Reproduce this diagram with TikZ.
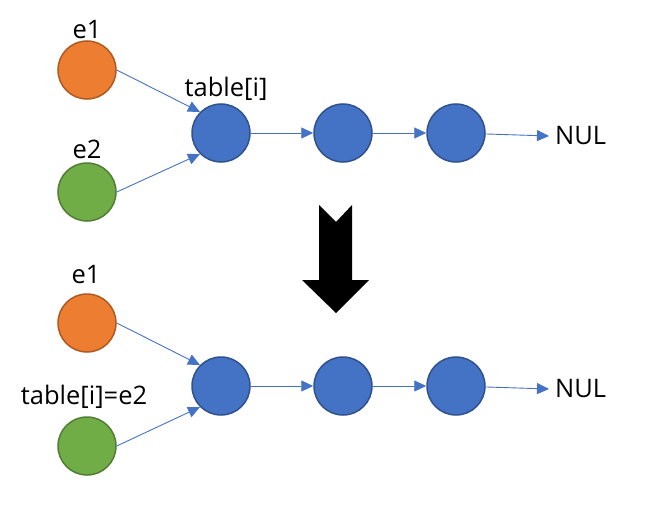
\documentclass[tikz,border=0pt]{standalone}
\usepackage{fontspec}
\setmainfont{Open Sans}
\usetikzlibrary{arrows.meta}
\definecolor{orfill}{HTML}{ED7D31}
\definecolor{ordraw}{HTML}{AE5A21}
\definecolor{grfill}{HTML}{70AD47}
\definecolor{grdraw}{HTML}{507E32}
\definecolor{blfill}{HTML}{4472C4}
\definecolor{bldraw}{HTML}{2F528F}
\tikzset{
  ball/.style={circle, minimum size=58pt, inner sep=0pt, line width=1.5pt},
  orball/.style={ball, fill=orfill, draw=ordraw},
  grball/.style={ball, fill=grfill, draw=grdraw},
  blball/.style={ball, fill=blfill, draw=bldraw},
  lbl/.style={font=\fontsize{25.5}{28}\selectfont, inner sep=0pt},
  link/.style={draw=blfill, line width=0.9pt, -{Triangle[length=12pt,width=11pt]}}
}
\begin{document}
\begin{tikzpicture}[x=1pt,y=-1pt]
\useasboundingbox (0,0) rectangle (669,511);
% top
\node[orball] (a1) at (87,70) {};
\node[grball] (a2) at (87,192) {};
\node[blball] (a3) at (221,133) {};
\node[blball] (a4) at (343,133) {};
\node[blball] (a5) at (456,133) {};
\node[lbl] (la1) at (87,30) {e1};
\node[lbl] (la2) at (87,149) {e2};
\node[lbl] (la3) at (226,89) {table[i]};
\node[lbl, anchor=west, inner sep=6pt] (anul) at (549,136) {NUL};
\draw[link] (a1.east) -- (a3.135);
\draw[link] (a2.east) -- (a3.225);
\draw[link] (a3) -- (a4);
\draw[link] (a4) -- (a5);
\draw[link] (a5) -- (anul.west);
% big arrow
\fill[black] (319,205) -- (336,222) -- (352,205) -- (352,280) -- (369,280) -- (336,313) -- (302,280) -- (319,280) -- cycle;
% bottom
\node[orball] (b1) at (87,323) {};
\node[grball] (b2) at (87,446) {};
\node[blball] (b3) at (221,386) {};
\node[blball] (b4) at (343,386) {};
\node[blball] (b5) at (456,386) {};
\node[lbl] (lb1) at (86,275) {e1};
\node[lbl] (lb2) at (84,397) {table[i]=e2};
\node[lbl, anchor=west, inner sep=6pt] (bnul) at (549,389) {NUL};
\draw[link] (b1.east) -- (b3.135);
\draw[link] (b2.east) -- (b3.225);
\draw[link] (b3) -- (b4);
\draw[link] (b4) -- (b5);
\draw[link] (b5) -- (bnul.west);
\end{tikzpicture}
\end{document}
